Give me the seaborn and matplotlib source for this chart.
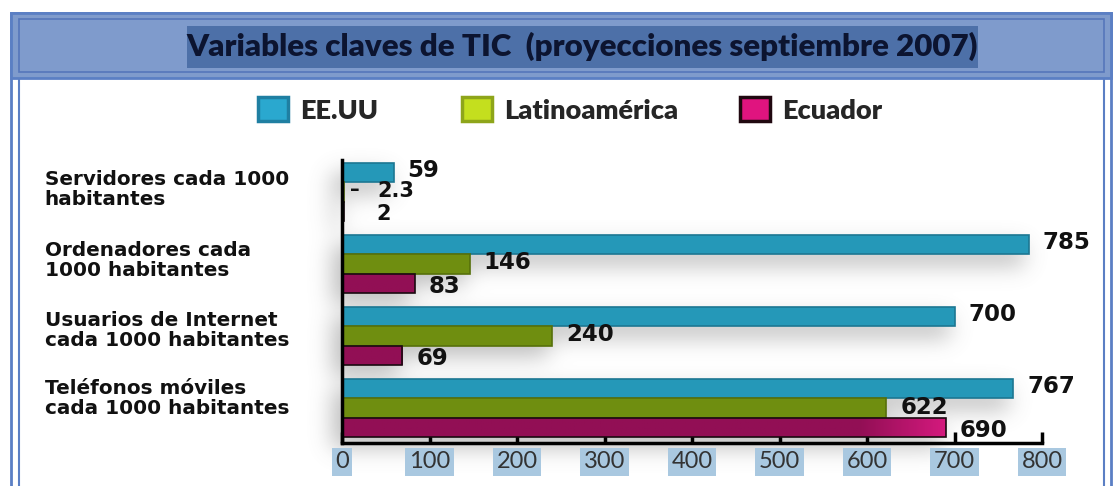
import numpy as np
import pandas as pd
import matplotlib
matplotlib.use('Agg')
import matplotlib.pyplot as plt
from matplotlib.patches import Rectangle, Patch
from matplotlib.colors import LinearSegmentedColormap
from matplotlib.transforms import ScaledTranslation
import seaborn as sns

# datos
categorias = ['Servidores cada 1000\nhabitantes',
              'Ordenadores cada\n1000 habitantes',
              'Usuarios de Internet\ncada 1000 habitantes',
              'Teléfonos móviles\ncada 1000 habitantes']
series = ['EE.UU', 'Latinoamérica', 'Ecuador']
eeuu = [59, 785, 700, 767]
latam = [2.3, 146, 240, 622]
ecuador = [2, 83, 69, 690]
x_ticks = [0, 100, 200, 300, 400, 500, 600, 700, 800]

df = pd.DataFrame({
    'categoria': categorias * 3,
    'serie': np.repeat(series, len(categorias)),
    'valor': eeuu + latam + ecuador,
})

bar_colors = ['#2598b8', '#6f8e10', '#920f55']
edge_colors = ['#1c7792', '#56700a', '#1a0a10']
legend_colors = ['#2aa8cf', '#c4df1e', '#e0147f']
legend_edges = ['#1f7fa2', '#8ea51a', '#200810']

sns.set_style('white')
plt.rcParams['font.family'] = ['DejaVu Sans']
narrow = ['Lato', 'DejaVu Sans']

W, H = 1116, 486
fig = plt.figure(figsize=(W / 100, H / 100), dpi=100)


def box(x0, y0, x1, y1, **kw):
    r = Rectangle((x0 / W, 1 - y1 / H), (x1 - x0) / W, (y1 - y0) / H,
                  transform=fig.transFigure, zorder=-10, **kw)
    fig.patches.append(r)


# marco y cabecera
box(11, 13, 1111, 490, facecolor='white', edgecolor='#5b7fc4', lw=2)
box(19, 78, 1104, 490, facecolor='none', edgecolor='#5b7fc4', lw=1.5)
box(11, 13, 1111, 78, facecolor='#7f9bcc', edgecolor='#5b7fc4', lw=2)
box(19, 19, 1104, 72, facecolor='none', edgecolor='#5576bb', lw=1.2)
box(187, 26, 978, 68, facecolor='#4d70a8', edgecolor='none')
fig.text(582 / W, 1 - 46 / H, 'Variables claves de TIC  (proyecciones septiembre 2007)',
         ha='center', va='center', fontsize=22.5, fontweight='heavy',
         family=narrow, color='#0c1430')

ax = fig.add_axes([342 / W, 1 - 443 / H, 700 / W, (443 - 160) / H])
sns.barplot(data=df, y='categoria', x='valor', hue='serie', orient='h',
            palette=bar_colors, saturation=1, width=0.8, legend=False, ax=ax)

ax.set_facecolor('none')
ax.set_xlim(0, 800)
ax.set_ylim(3.486, -0.444)

# sombra difusa bajo las barras
mask = np.zeros((H, W))
for cont in ax.containers:
    for p in cont:
        (x0, y0), (x1, y1) = ax.transData.transform(
            [(0, p.get_y()), (p.get_width(), p.get_y() + p.get_height())])
        r0, r1 = sorted([int(H - y0), int(H - y1)])
        mask[r0 + 10:r1 + 12, max(int(x0) - 10, 0):int(x1) - 4] = 1
k = np.exp(-0.5 * (np.arange(-30, 31) / 11.0) ** 2)
k /= k.sum()
mask = np.apply_along_axis(lambda v: np.convolve(v, k, mode='same'), 1, mask)
mask = np.apply_along_axis(lambda v: np.convolve(v, k, mode='same'), 0, mask)
shadow = np.zeros((H, W, 4))
shadow[..., :3] = 0.45
shadow[..., 3] = 0.45 * mask
fig.figimage(shadow[::-1], xo=0, yo=0, origin='lower', zorder=-5)

# degradado al final de la barra larga de Ecuador
grad = LinearSegmentedColormap.from_list('ec', [(0, '#920f55'), (0.74, '#920f55'),
                                                (0.87, '#d81a80'), (1, '#e01c85')])
for cont, ec in zip(ax.containers, edge_colors):
    for p in cont:
        p.set_edgecolor(ec)
        p.set_linewidth(1.2)
for p in ax.containers[2]:
    im = ax.imshow(np.linspace(0, 1, 256)[None, :], cmap=grad, aspect='auto',
                   extent=(0, 800, p.get_y() + p.get_height(), p.get_y()), zorder=p.get_zorder())
    im.set_clip_path(p)
    p.set_facecolor('none')
    p.set_zorder(p.get_zorder() + 0.1)
ax.set_xlim(0, 800)
ax.set_ylim(3.486, -0.444)

# etiquetas de valores
label_dy = [2, 1, -3]
for cont, dy in zip(ax.containers, label_dy):
    for p in cont:
        w = p.get_width()
        yc = p.get_y() + p.get_height() / 2
        off = 33 if w < 10 else 14
        fs = 15 if w < 10 else 16.5
        txt = ('%.1f' % w).rstrip('0').rstrip('.')
        ax.annotate(txt, xy=(w, yc), xytext=(off, dy), textcoords='offset pixels',
                    ha='left', va='center', fontsize=fs, fontweight='bold', color='#111111')
p = ax.containers[1][0]
ax.annotate('–', xy=(p.get_width(), p.get_y() + p.get_height() / 2), xytext=(6, 2),
            textcoords='offset pixels', ha='left', va='center', fontsize=14,
            fontweight='bold', color='#111111')

# ejes
for s in ['top', 'right']:
    ax.spines[s].set_visible(False)
for s in ['left', 'bottom']:
    ax.spines[s].set_linewidth(2.5)
    ax.spines[s].set_color('black')
ax.set_xticks(x_ticks)
ax.set_xticklabels([str(t) for t in x_ticks], family=narrow, fontsize=17, color='#333333')
for lab in ax.get_xticklabels():
    lab.set_bbox(dict(facecolor='#a9c8e0', edgecolor='none', pad=2.5))
ax.tick_params(axis='x', direction='in', length=8, width=2.5, color='black', pad=6, bottom=True)
ax.tick_params(axis='y', length=0, pad=214)
ax.set_yticks(range(len(categorias)))
ax.set_yticklabels(categorias, fontsize=14.4, fontweight='bold', color='#111111',
                   ha='left', linespacing=1.05)
label_shift = [5, 6, 8, 12]
for lab, dy in zip(ax.get_yticklabels(), label_shift):
    lab.set_transform(lab.get_transform() + ScaledTranslation(0, dy / 100, fig.dpi_scale_trans))
ax.set_xlabel('')
ax.set_ylabel('')

# leyenda
leg_x = [258, 462, 740]
for name, fc, ecol, lx in zip(series, legend_colors, legend_edges, leg_x):
    h = Patch(facecolor=fc, edgecolor=ecol, lw=2.5, label=name)
    fig.legend(handles=[h], loc='center left', bbox_to_anchor=(lx / W, 1 - 110 / H),
               frameon=False, borderpad=0, borderaxespad=0, handlelength=1.12,
               handleheight=0.98, handletextpad=0.45,
               prop=dict(family=narrow, weight='heavy', size=19.5))

fig.savefig('out.png', dpi=100)
